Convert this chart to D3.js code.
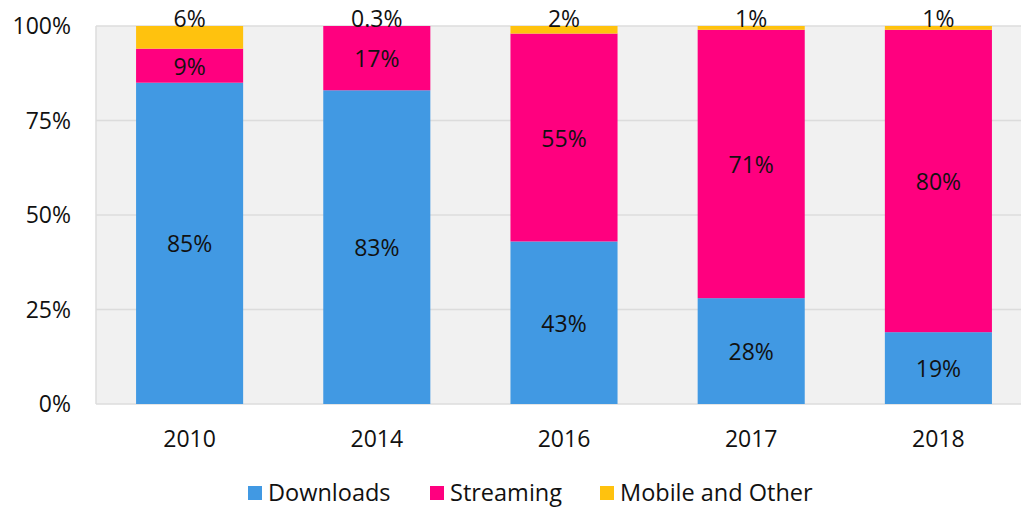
<!DOCTYPE html>
<html><head><meta charset="utf-8">
<script src="https://cdn.jsdelivr.net/npm/d3@7"></script>
<style>body{margin:0;background:#fff;} text{font-family:"Open Sans",sans-serif;fill:#111;}</style>
</head><body><svg id="c" width="1021" height="510"></svg>
<script>
const years = ["2010","2014","2016","2017","2018"];
const downloads = [85, 83, 43, 28, 19];
const streaming = [9, 17, 55, 71, 80];
const mobileOther = [6, 0.3, 2, 1, 1];
const seriesNames = ["Downloads","Streaming","Mobile and Other"];
const seriesColors = ["#4199e3","#ff007f","#ffc20e"];
const yTicks = [0,25,50,75,100];

(function(){
const svg = d3.select("#c");
const pL = 96, pR = 1032, pT = 26, pB = 404;
const fs = 23;
const x = d3.scaleBand().domain(years).range([pL,pR]).paddingInner(0.428).paddingOuter(0.214);
const y = d3.scaleLinear().domain([0,100]).range([pB,pT]);

svg.append("rect").attr("x",pL).attr("y",pT).attr("width",pR-pL).attr("height",pB-pT).attr("fill","#f1f1f1");
svg.append("g").selectAll("line").data(yTicks).join("line")
  .attr("x1",pL).attr("x2",pR).attr("y1",d=>y(d)).attr("y2",d=>y(d))
  .attr("stroke","#dcdcdc").attr("stroke-width",1.5);
svg.append("line").attr("x1",pL).attr("x2",pL).attr("y1",pT).attr("y2",pB).attr("stroke","#dcdcdc").attr("stroke-width",1.5);

const table = years.map((yr,i)=>({year:yr, Downloads:downloads[i], Streaming:streaming[i], "Mobile and Other":mobileOther[i]}));
const stack = d3.stack().keys(seriesNames)(table);
const fmt = v => (v<1 ? d3.format(".1f")(v) : d3.format("d")(v)) + "%";

stack.forEach((s,si)=>{
  const g = svg.append("g");
  g.selectAll("rect").data(s).join("rect")
    .attr("x",d=>x(d.data.year)).attr("width",x.bandwidth())
    .attr("y",d=>y(Math.min(d[1],100))).attr("height",d=>y(d[0])-y(Math.min(d[1],100)))
    .attr("fill",seriesColors[si]);
  g.selectAll("text").data(s).join("text")
    .attr("x",d=>x(d.data.year)+x.bandwidth()/2)
    .attr("y",d=> si===2 ? y(100)+1 : (y(d[0])+y(Math.min(d[1],100)))/2 + 9)
    .attr("text-anchor","middle").attr("font-size",fs)
    .text(d=>fmt(d.data[seriesNames[si]]));
});

svg.append("g").selectAll("text").data(yTicks).join("text")
  .attr("x",71).attr("y",d=>y(d)+8).attr("text-anchor","end").attr("font-size",fs)
  .text(d=>d+"%");
svg.append("g").selectAll("text").data(years).join("text")
  .attr("x",d=>x(d)+x.bandwidth()/2).attr("y",447).attr("text-anchor","middle").attr("font-size",fs)
  .text(d=>d);

const legX = [248, 430, 600];
const lg = svg.append("g").selectAll("g").data(seriesNames).join("g")
  .attr("transform",(d,i)=>`translate(${legX[i]},0)`);
lg.append("rect").attr("x",0).attr("y",486).attr("width",14).attr("height",14).attr("fill",(d,i)=>seriesColors[i]);
lg.append("text").attr("x",20).attr("y",501).attr("font-size",fs+0.5).text(d=>d);
})();
</script></body></html>
